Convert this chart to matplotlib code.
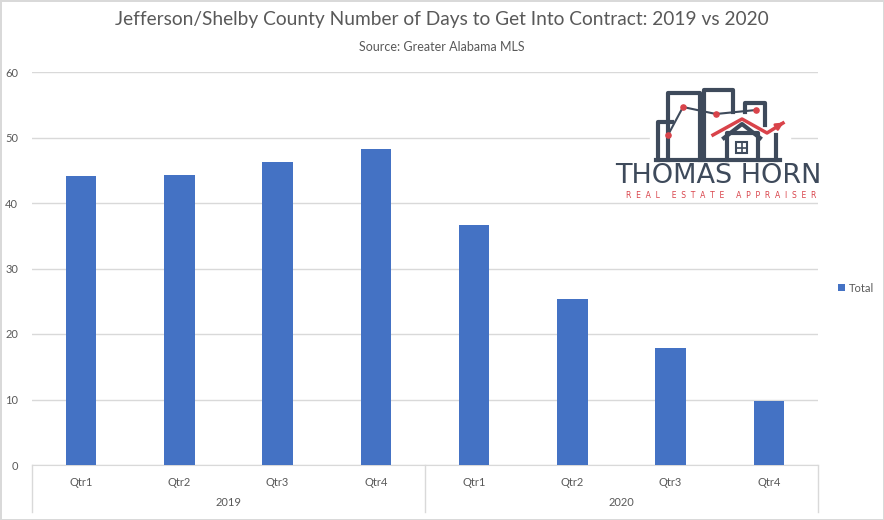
import matplotlib.pyplot as plt
import matplotlib.patches as mpatches
import matplotlib.transforms as mtransforms

# 数据
years = ["2019", "2020"]
quarters = ["Qtr1", "Qtr2", "Qtr3", "Qtr4"]
days_2019 = [44.1, 44.3, 46.2, 48.2]
days_2020 = [36.7, 25.4, 17.9, 9.7]
values = days_2019 + days_2020
labels = quarters * len(years)

bar_color = "#4472C4"
text_color = "#595959"
grid_color = "#D9D9D9"
font = "Lato"

W, H = 884, 520
fig = plt.figure(figsize=(W / 100, H / 100), dpi=100)
fig.patch.set_edgecolor(grid_color)
fig.patch.set_linewidth(2)

# 绘图区 (像素 -> 比例)
left, right, top, bottom = 32, 818, 72, 465
ax = fig.add_axes([left / W, (H - bottom) / H, (right - left) / W, (bottom - top) / H])

x = list(range(len(values)))
ax.bar(x, values, width=0.31, color=bar_color, zorder=3, label="Total")
ax.set_xlim(-0.5, len(values) - 0.5)
ax.set_ylim(0, 60)
ax.set_yticks(range(0, 61, 10))
ax.yaxis.grid(True, color=grid_color, linewidth=1)
ax.set_axisbelow(True)
for s in ["top", "right", "left"]:
    ax.spines[s].set_visible(False)
ax.spines["bottom"].set_color(grid_color)
ax.tick_params(axis="y", length=0, pad=10, labelsize=8, labelcolor=text_color)
ax.tick_params(axis="x", length=0, pad=9, labelsize=8, labelcolor=text_color)
ax.set_xticks(x)
ax.set_xticklabels(labels)
for t in ax.get_xticklabels() + ax.get_yticklabels():
    t.set_fontfamily(font)

# 两级分类轴
trans = mtransforms.blended_transform_factory(ax.transData, ax.transAxes)
depth = (512 - bottom) / (bottom - top)
for xs in [-0.5, 3.5, 7.5]:
    ax.plot([xs, xs], [0, -depth], color=grid_color, lw=1, transform=trans, clip_on=False)
for i, yr in enumerate(years):
    cx = i * len(quarters) + (len(quarters) - 1) / 2
    ax.text(cx, -(503 - bottom) / (bottom - top), yr, transform=trans, ha="center", va="center",
            fontsize=8, color=text_color, family=font)

# 标题
fig.text(0.5, 1 - 19 / H, "Jefferson/Shelby County Number of Days to Get Into Contract: 2019 vs 2020",
         ha="center", va="center", fontsize=13.8, color=text_color, family=font)
fig.text(0.5, 1 - 47 / H, "Source: Greater Alabama MLS", ha="center", va="center",
         fontsize=9, color=text_color, family=font)

# 图例
fig.legend(loc="center left", bbox_to_anchor=(828 / W, 1 - 288 / H), frameon=False,
           handlelength=0.6, handleheight=0.6, handletextpad=0.4,
           prop={"family": font, "size": 8}, labelcolor=text_color)

# 标志 (像素坐标)
lax = fig.add_axes([0, 0, 1, 1], zorder=5)
lax.set_xlim(0, W)
lax.set_ylim(H, 0)
lax.axis("off")
dark = "#3E4A5B"
red = "#D9434A"
lax.add_patch(mpatches.Rectangle((650, 85), 140, 76, color="white", zorder=1))
lw = 3
lax.plot([658, 658, 672], [160, 122, 122], color=dark, lw=lw, zorder=2)
lax.plot([668, 668, 700, 700], [160, 93, 93, 160], color=dark, lw=lw, zorder=2)
lax.plot([704, 704, 733, 733], [160, 90, 90, 112], color=dark, lw=lw, zorder=2)
lax.plot([745, 745, 765, 765], [112, 103, 103, 125], color=dark, lw=lw, zorder=2)
lax.plot([776, 776], [135, 160], color=dark, lw=lw, zorder=2)
lax.plot([656, 780], [160, 160], color=dark, lw=lw, zorder=2)
lax.plot([727, 727, 758, 758], [160, 133, 133, 160], color=dark, lw=lw, zorder=2)
lax.plot([724, 742, 760], [138, 124, 138], color=dark, lw=lw, zorder=2)
lax.add_patch(mpatches.Rectangle((736, 142), 11, 11, fill=False, edgecolor=dark, lw=1.5, zorder=3))
lax.plot([741.5, 741.5], [142, 153], color=dark, lw=1.2, zorder=3)
lax.plot([736, 747], [147.5, 147.5], color=dark, lw=1.2, zorder=3)
lax.plot([713, 742, 767, 783], [135, 119, 133, 123], color=red, lw=2.5, zorder=3)
lax.annotate("", xy=(786, 121), xytext=(778, 126),
             arrowprops=dict(arrowstyle="-|>", color=red, lw=2, mutation_scale=10), zorder=3)
lax.plot([668, 683, 716, 756], [135, 107, 114, 110], color=dark, lw=1.5, zorder=3)
lax.scatter([668, 683, 716, 756], [135, 107, 114, 110], s=14, color=red, zorder=4)
lax.text(718, 176, "THOMAS HORN", ha="center", va="center", fontsize=19.5, color=dark,
         family="DejaVu Sans")
lax.text(721, 196, "  ".join("REAL ESTATE APPRAISER").replace("       ", "     "),
         ha="center", va="center", fontsize=5.5, color=red, family="DejaVu Sans")

fig.savefig("out.png", dpi=100)
